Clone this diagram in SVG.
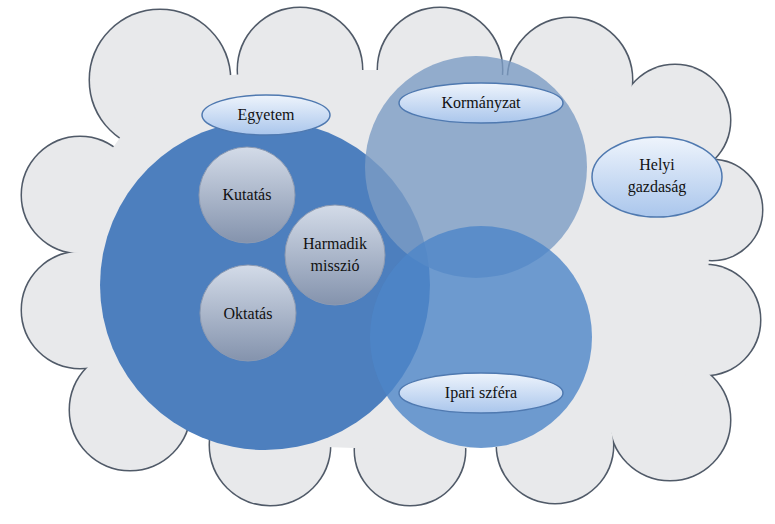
<svg xmlns="http://www.w3.org/2000/svg" width="775" height="524" viewBox="0 0 775 524">
<defs>
<linearGradient id="sm" x1="0" y1="0" x2="0" y2="1"><stop offset="0" stop-color="#d3dbe8"/><stop offset="1" stop-color="#8493ad"/></linearGradient>
<linearGradient id="el" x1="0" y1="0" x2="0" y2="1"><stop offset="0" stop-color="#eef4fc"/><stop offset="1" stop-color="#aac6ec"/></linearGradient>
</defs>
<style>
.cs{fill:none;stroke:#505a68;stroke-width:3}
.cf{fill:#e8e9eb}
.sm{fill:url(#sm);stroke:#8c9ab2;stroke-width:1}
.el{fill:url(#el);stroke:#4f79b0;stroke-width:1.5}
.t{font-family:'Liberation Serif','DejaVu Serif','Times New Roman',serif;font-size:16px;fill:#111;text-anchor:middle}
</style>
<g id="cloud">
<g class="cs">
<circle cx="160" cy="80" r="70"/><circle cx="300" cy="70" r="62"/><circle cx="440" cy="70" r="62"/><circle cx="570" cy="80" r="62"/><circle cx="675" cy="120" r="55"/>
<circle cx="712" cy="210" r="50"/><circle cx="705" cy="320" r="55"/><circle cx="670" cy="420" r="60"/><circle cx="555" cy="445" r="58"/><circle cx="410" cy="450" r="55"/><circle cx="270" cy="445" r="60"/><circle cx="130" cy="410" r="60"/><circle cx="80" cy="310" r="58"/><circle cx="80" cy="195" r="58"/>
</g>
<g class="cf">
<circle cx="160" cy="80" r="70"/><circle cx="300" cy="70" r="62"/><circle cx="440" cy="70" r="62"/><circle cx="570" cy="80" r="62"/><circle cx="675" cy="120" r="55"/>
<circle cx="712" cy="210" r="50"/><circle cx="705" cy="320" r="55"/><circle cx="670" cy="420" r="60"/><circle cx="555" cy="445" r="58"/><circle cx="410" cy="450" r="55"/><circle cx="270" cy="445" r="60"/><circle cx="130" cy="410" r="60"/><circle cx="80" cy="310" r="58"/><circle cx="80" cy="195" r="58"/>
<polygon points="160,80 300,70 440,70 570,80 675,120 712,210 705,320 670,420 555,445 410,450 270,445 130,410 80,310 80,195"/>
</g>
</g>
<g id="egyetem-circle"><circle cx="265" cy="285" r="165" fill="#4d7fbe"/></g>
<g id="kormanyzat-circle"><circle cx="476" cy="167" r="111" fill="#7c9cc4" fill-opacity="0.8"/></g>
<g id="ipari-circle"><circle cx="481" cy="337" r="111" fill="#4e86c8" fill-opacity="0.8"/></g>
<g id="kutatas"><circle class="sm" cx="247" cy="195" r="48"/><text class="t" x="247" y="200">Kutatás</text></g>
<g id="oktatas"><circle class="sm" cx="248" cy="313" r="48"/><text class="t" x="248" y="319">Oktatás</text></g>
<g id="harmadik"><circle class="sm" cx="335" cy="255" r="50"/><text class="t" x="335" y="249">Harmadik</text><text class="t" x="335" y="271">misszió</text></g>
<g id="egyetem"><ellipse class="el" cx="266" cy="115" rx="64" ry="20"/><text class="t" x="266" y="120">Egyetem</text></g>
<g id="kormanyzat"><ellipse class="el" cx="481" cy="103" rx="82" ry="20"/><text class="t" x="481" y="108">Kormányzat</text></g>
<g id="ipari"><ellipse class="el" cx="481" cy="393" rx="82" ry="20"/><text class="t" x="481" y="398">Ipari szféra</text></g>
<g id="helyi"><ellipse class="el" cx="657" cy="177" rx="65" ry="40"/><text class="t" x="657" y="170">Helyi</text><text class="t" x="657" y="192">gazdaság</text></g>
<g id="connectors"/>
</svg>
